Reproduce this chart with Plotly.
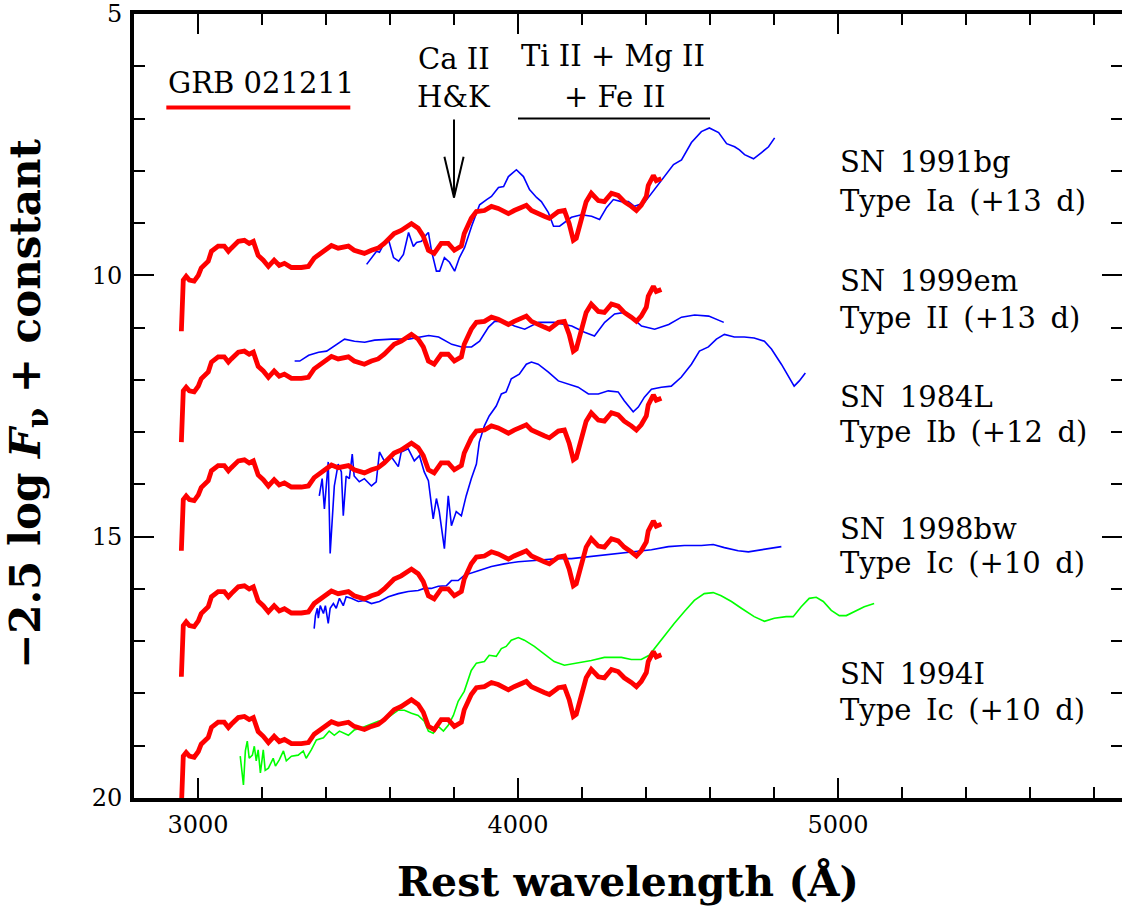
import plotly.graph_objects as go

# ---------------- data ----------------
# GRB 021211 spectrum (red), values for the SN 1999em row; other rows are offset
grb_wave = [2948, 2951, 2954, 2963, 2973, 2988, 3001, 3010, 3032, 3042,
            3063, 3082, 3095, 3104, 3126, 3145, 3160, 3173, 3188, 3204,
            3220, 3238, 3254, 3270, 3292, 3323, 3345, 3363, 3385, 3417,
            3438, 3470, 3488, 3520, 3542, 3563, 3582, 3613, 3635, 3667,
            3688, 3704, 3720, 3738, 3760, 3782, 3801, 3823, 3832, 3854,
            3870, 3895, 3917, 3938, 3970, 3988, 4026, 4042, 4082, 4098,
            4126, 4145, 4160, 4173, 4182, 4198, 4213, 4229, 4251, 4270,
            4292, 4313, 4332, 4354, 4370, 4385, 4401, 4407, 4423, 4432, 4448]
grb_mag = [13.19, 12.52, 12.21, 12.14, 12.21, 12.23, 12.12, 11.98, 11.85, 11.66,
           11.56, 11.56, 11.66, 11.60, 11.47, 11.45, 11.51, 11.47, 11.74, 11.83,
           11.95, 11.83, 11.93, 11.89, 11.97, 11.97, 11.95, 11.79, 11.70, 11.55,
           11.60, 11.56, 11.64, 11.70, 11.64, 11.60, 11.51, 11.32, 11.26, 11.13,
           11.22, 11.37, 11.64, 11.70, 11.51, 11.51, 11.64, 11.56, 11.32, 11.03,
           10.90, 10.88, 10.80, 10.84, 10.94, 10.88, 10.78, 10.88, 10.99, 11.03,
           10.90, 10.88, 11.13, 11.45, 11.41, 11.07, 10.71, 10.55, 10.69, 10.71,
           10.55, 10.59, 10.71, 10.80, 10.88, 10.78, 10.61, 10.40, 10.21, 10.31, 10.27]
grb_offsets = [-2.12, 0.0, 2.08, 4.49, 6.99]

sn91bg_wave = [3527, 3542, 3558, 3567, 3580, 3595, 3611, 3627, 3642, 3658,
               3673, 3683, 3698, 3714, 3720, 3730, 3745, 3755, 3770, 3786,
               3802, 3817, 3833, 3855, 3880, 3902, 3917, 3939, 3955, 3970,
               3995, 4017, 4036, 4058, 4073, 4095, 4111, 4130, 4145, 4167,
               4198, 4230, 4255, 4277, 4298, 4323, 4345, 4364, 4395, 4427,
               4458, 4486, 4511, 4542, 4573, 4598, 4627, 4652, 4677, 4692,
               4708, 4736, 4761, 4783, 4802]
sn91bg_mag = [9.79, 9.66, 9.54, 9.56, 9.41, 9.31, 9.66, 9.73, 9.60, 9.18,
              9.45, 9.37, 9.35, 9.22, 9.18, 9.54, 9.92, 9.92, 9.66, 9.75,
              9.92, 9.66, 9.47, 9.06, 8.65, 8.55, 8.49, 8.32, 8.30, 8.11,
              7.98, 8.11, 8.36, 8.51, 8.59, 8.80, 9.06, 9.06, 8.99, 8.89,
              8.84, 8.87, 8.93, 8.70, 8.55, 8.59, 8.59, 8.68, 8.61, 8.36,
              8.11, 7.88, 7.79, 7.46, 7.25, 7.18, 7.27, 7.48, 7.54, 7.60,
              7.69, 7.77, 7.65, 7.54, 7.37]

sn99em_wave = [3302, 3318, 3346, 3377, 3402, 3427, 3458, 3489, 3521, 3552,
               3605, 3658, 3689, 3721, 3752, 3793, 3824, 3855, 3880, 3908,
               3927, 3958, 3989, 4021, 4064, 4114, 4168, 4208, 4239, 4271,
               4302, 4333, 4355, 4386, 4427, 4471, 4511, 4552, 4596, 4643]
sn99em_mag = [11.64, 11.64, 11.53, 11.47, 11.45, 11.35, 11.22, 11.26, 11.28, 11.24,
              11.22, 11.22, 11.18, 11.15, 11.18, 11.32, 11.37, 11.37, 11.26, 10.99,
              10.88, 10.88, 10.97, 11.03, 10.90, 10.90, 10.97, 11.09, 11.16, 10.90,
              10.74, 10.71, 10.80, 10.97, 11.03, 10.94, 10.80, 10.76, 10.78, 10.90]

sn84l_wave = [3379, 3388, 3395, 3407, 3413, 3426, 3438, 3448, 3454, 3463,
              3473, 3482, 3488, 3504, 3520, 3542, 3557, 3567, 3582, 3604,
              3626, 3635, 3657, 3676, 3692, 3707, 3720, 3735, 3745, 3754,
              3770, 3782, 3792, 3807, 3823, 3838, 3854, 3870, 3879, 3895,
              3910, 3932, 3948, 3963, 3979, 4004, 4026, 4042, 4063, 4095,
              4126, 4157, 4188, 4220, 4251, 4282, 4313, 4332, 4360, 4376,
              4395, 4417, 4448, 4479, 4510, 4542, 4567, 4595, 4620, 4645,
              4676, 4707, 4738, 4770, 4792, 4823, 4845, 4863, 4879, 4898]
sn84l_mag = [14.22, 13.89, 14.47, 13.57, 15.32, 14.03, 13.61, 13.76, 14.60, 13.84,
             13.89, 13.42, 13.84, 13.95, 13.89, 14.03, 13.95, 13.38, 13.55, 13.47,
             13.66, 13.38, 13.32, 13.55, 13.45, 13.76, 13.93, 14.66, 14.27, 14.52,
             15.23, 14.22, 14.79, 14.52, 14.60, 14.22, 13.89, 13.61, 13.19, 12.88,
             12.69, 12.50, 12.27, 12.23, 11.98, 11.89, 11.70, 11.66, 11.70, 11.85,
             12.02, 12.08, 12.14, 12.27, 12.27, 12.21, 12.23, 12.40, 12.61, 12.52,
             12.33, 12.18, 12.14, 12.12, 11.95, 11.70, 11.45, 11.37, 11.22, 11.13,
             11.18, 11.18, 11.20, 11.26, 11.41, 11.70, 11.93, 12.12, 12.02, 11.87]

sn98bw_wave = [3363, 3367, 3373, 3376, 3382, 3392, 3398, 3407, 3413, 3423,
               3432, 3442, 3454, 3463, 3479, 3501, 3520, 3542, 3567, 3595,
               3626, 3657, 3688, 3707, 3729, 3751, 3776, 3792, 3813, 3832,
               3876, 3917, 3957, 4001, 4042, 4082, 4126, 4167, 4251, 4313,
               4363, 4417, 4470, 4520, 4573, 4610, 4645, 4688, 4720, 4760,
               4801, 4823]
sn98bw_mag = [16.76, 16.51, 16.37, 16.56, 16.32, 16.47, 16.32, 16.66, 16.37, 16.28,
              16.37, 16.18, 16.32, 16.15, 16.18, 16.24, 16.22, 16.28, 16.24, 16.15,
              16.09, 16.05, 16.03, 15.99, 15.99, 15.95, 15.94, 15.84, 15.84, 15.74,
              15.65, 15.57, 15.52, 15.48, 15.46, 15.44, 15.42, 15.42, 15.36, 15.32,
              15.29, 15.25, 15.19, 15.17, 15.17, 15.15, 15.21, 15.27, 15.29, 15.25,
              15.21, 15.19]

sn94i_wave = [3132, 3142, 3148, 3154, 3160, 3170, 3176, 3182, 3188, 3195,
              3204, 3210, 3220, 3235, 3242, 3254, 3267, 3276, 3292, 3313,
              3329, 3338, 3354, 3370, 3392, 3410, 3426, 3442, 3470, 3488,
              3510, 3532, 3563, 3582, 3604, 3626, 3645, 3667, 3688, 3707,
              3720, 3735, 3751, 3767, 3782, 3798, 3813, 3832, 3854, 3870,
              3895, 3910, 3932, 3948, 3963, 3979, 4001, 4020, 4051, 4088,
              4113, 4145, 4188, 4229, 4270, 4323, 4354, 4385, 4410, 4432,
              4457, 4488, 4520, 4551, 4582, 4610, 4635, 4667, 4698, 4738,
              4770, 4801, 4838, 4860, 4885, 4910, 4932, 4954, 4979, 5004,
              5026, 5051, 5082, 5113]
sn94i_mag = [19.20, 19.75, 19.10, 18.91, 19.24, 19.18, 19.01, 19.29, 19.08, 19.52,
             19.08, 19.47, 19.43, 19.24, 19.39, 19.27, 19.10, 19.29, 19.20, 19.18,
             19.10, 19.24, 19.08, 18.89, 18.85, 18.72, 18.80, 18.72, 18.80, 18.70,
             18.66, 18.61, 18.53, 18.51, 18.42, 18.32, 18.32, 18.38, 18.42, 18.53,
             18.72, 18.76, 18.63, 18.72, 18.61, 18.42, 18.15, 17.96, 17.56, 17.42,
             17.39, 17.27, 17.29, 17.14, 17.10, 16.98, 16.93, 16.98, 17.10, 17.27,
             17.39, 17.46, 17.42, 17.37, 17.31, 17.31, 17.35, 17.35, 17.27, 17.10,
             16.89, 16.66, 16.43, 16.22, 16.09, 16.07, 16.13, 16.24, 16.37, 16.53,
             16.62, 16.56, 16.53, 16.53, 16.34, 16.18, 16.16, 16.24, 16.41, 16.51,
             16.51, 16.43, 16.34, 16.28]

sn_names = ["SN 1991bg", "SN 1999em", "SN 1984L", "SN 1998bw", "SN 1994I"]
sn_types = ["Type Ia (+13 d)", "Type II (+13 d)", "Type Ib (+12 d)",
            "Type Ic (+10 d)", "Type Ic (+10 d)"]

# ---------------- figure ----------------
FONT = "DejaVu Serif"
fig = go.Figure()

comparisons = [
    (sn91bg_wave, sn91bg_mag, "#0000ff"),
    (sn99em_wave, sn99em_mag, "#0000ff"),
    (sn84l_wave, sn84l_mag, "#0000ff"),
    (sn98bw_wave, sn98bw_mag, "#0000ff"),
    (sn94i_wave, sn94i_mag, "#00ff00"),
]
for w, m, c in comparisons:
    fig.add_trace(go.Scatter(x=w, y=m, mode="lines",
                             line=dict(color=c, width=1.6), hoverinfo="skip"))

for off in grb_offsets:
    fig.add_trace(go.Scatter(x=grb_wave, y=[v + off for v in grb_mag], mode="lines",
                             line=dict(color="#ff0000", width=4.8), hoverinfo="skip"))

EN = "\u2002"
ann = []
tfont = dict(family=FONT, size=29, color="black")
# SN labels (two lines each)
name_y = [7.83, 10.11, 12.33, 14.85, 17.63]
type_y = [8.57, 10.82, 13.00, 15.50, 18.32]
for n, t, y1, y2 in zip(sn_names, sn_types, name_y, type_y):
    ann.append(dict(x=5000, y=y1, text=n.replace(" ", EN), xref="x", yref="y",
                    showarrow=False, xanchor="left", yanchor="middle", font=tfont))
    ann.append(dict(x=5000, y=y2, text=t.replace(" ", EN), xref="x", yref="y",
                    showarrow=False, xanchor="left", yanchor="middle", font=tfont))

ann += [
    dict(x=2901, y=6.32, text="GRB 021211", xref="x", yref="y", showarrow=False,
         xanchor="left", yanchor="middle", font=tfont),
    dict(x=3800, y=5.86, text="Ca II", xref="x", yref="y", showarrow=False,
         xanchor="center", yanchor="middle", font=tfont),
    dict(x=3800, y=6.58, text="H&K", xref="x", yref="y", showarrow=False,
         xanchor="center", yanchor="middle", font=tfont),
    dict(x=4298, y=5.80, text="Ti II + Mg II", xref="x", yref="y", showarrow=False,
         xanchor="center", yanchor="middle", font=tfont),
    dict(x=4300, y=6.58, text="+ Fe II", xref="x", yref="y", showarrow=False,
         xanchor="center", yanchor="middle", font=tfont),
    dict(x=0.5, y=-0.106, text="Rest wavelength (Å)", xref="paper", yref="paper",
         showarrow=False, xanchor="center", yanchor="middle",
         font=dict(family=FONT, size=41, color="black", weight="bold")),
    dict(x=-0.107, y=0.503, text="−2.5 log <i>F</i><sub>ν</sub> + constant",
         xref="paper", yref="paper", showarrow=False, textangle=-90,
         xanchor="center", yanchor="middle",
         font=dict(family=FONT, size=42, color="black", weight="bold")),
]

shapes = [
    dict(type="line", xref="x", yref="y", x0=2901, x1=3476, y0=6.79, y1=6.79,
         line=dict(color="#ff0000", width=4)),
    dict(type="line", xref="x", yref="y", x0=4000, x1=4600, y0=7.0, y1=7.0,
         line=dict(color="black", width=2)),
    dict(type="line", xref="x", yref="y", x0=3800, x1=3800, y0=7.02, y1=8.51,
         line=dict(color="black", width=2)),
    dict(type="line", xref="x", yref="y", x0=3770, x1=3800, y0=7.73, y1=8.51,
         line=dict(color="black", width=2)),
    dict(type="line", xref="x", yref="y", x0=3830, x1=3800, y0=7.73, y1=8.51,
         line=dict(color="black", width=2)),
]

axis_common = dict(showline=True, linewidth=4, linecolor="black", mirror="allticks",
                   ticks="inside", ticklen=20, tickwidth=2, tickcolor="black",
                   showgrid=False, zeroline=False, ticklabeloverflow="allow",
                   tickfont=dict(family=FONT, size=24, color="black"))

fig.update_layout(
    width=1122, height=911,
    margin=dict(l=134, r=0, t=14, b=113, autoexpand=False),
    plot_bgcolor="white", paper_bgcolor="white",
    showlegend=False,
    annotations=ann, shapes=shapes,
    xaxis=dict(range=[2800, 5887.5], tick0=0, dtick=1000, ticklabelstandoff=2,
               minor=dict(dtick=200, ticklen=11, tickwidth=2, tickcolor="black",
                          ticks="inside", showgrid=False),
               **axis_common),
    yaxis=dict(range=[20, 5], tick0=0, dtick=5, ticklabelstandoff=3,
               minor=dict(dtick=1, ticklen=11, tickwidth=2, tickcolor="black",
                          ticks="inside", showgrid=False),
               **axis_common),
)

# remove the browser's default 8 px body margin so the figure fills the window
fig.write_html("out.html", config={"displayModeBar": False},
               post_script="document.body.style.margin='0px';")
